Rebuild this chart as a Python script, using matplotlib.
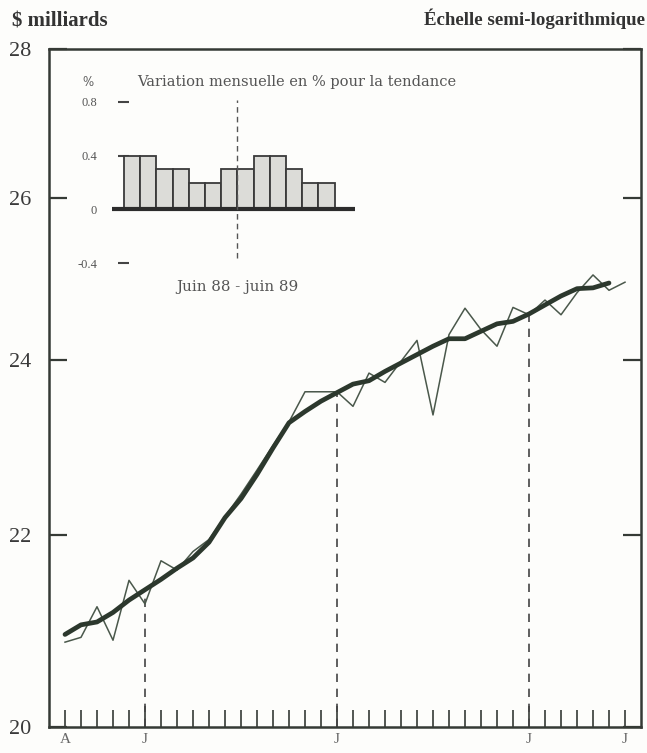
import matplotlib
matplotlib.use("Agg")
import matplotlib.pyplot as plt
from matplotlib.ticker import FixedLocator, NullLocator

plt.rcParams['font.family'] = ['Liberation Serif', 'DejaVu Serif']

# months from Aug 1986 (index 0) to Jul 1989 (index 35)
month_labels = ['A', '', '', '', '', 'J', '', '', '', '', '', '', '', '', '', '', '', 'J',
                '', '', '', '', '', '', '', '', '', '', '', 'J', '', '', '', '', '', 'J']
months = list(range(len(month_labels)))

# monthly values, $ billions
actual = [20.86, 20.91, 21.23, 20.88, 21.51, 21.26, 21.72, 21.62, 21.82, 21.95,
          22.20, 22.45, 22.72, 23.00, 23.27, 23.62, 23.62, 23.62, 23.45, 23.84,
          23.73, 23.98, 24.23, 23.35, 24.30, 24.62, 24.36, 24.16, 24.63, 24.54,
          24.72, 24.54, 24.81, 25.03, 24.84, 24.94]
# trend (ends one month earlier)
trend = [20.94, 21.04, 21.07, 21.17, 21.30, 21.41, 21.52, 21.64, 21.75, 21.92,
         22.19, 22.40, 22.67, 22.97, 23.26, 23.39, 23.51, 23.61, 23.71, 23.75,
         23.86, 23.96, 24.06, 24.16, 24.25, 24.25, 24.34, 24.43, 24.46, 24.55,
         24.66, 24.77, 24.86, 24.87, 24.93]
january_idx = [5, 17, 29]

y_ticks = [20, 22, 24, 26, 28]

# inset: monthly % change of trend, June 88 - June 89
pct_change = [0.4, 0.4, 0.3, 0.3, 0.2, 0.2, 0.3, 0.3, 0.4, 0.4, 0.3, 0.2, 0.2]
pct_ticks = [-0.4, 0, 0.4, 0.8]
pct_tick_labels = ['-0.4', '0', '0.4', '0.8']

W, H = 647, 753
fig = plt.figure(figsize=(W / 100, H / 100), dpi=100)
fig.patch.set_facecolor('#fdfdfb')

def px_axes(x0, y0, x1, y1):
    # pixel box (top-left origin) -> figure fraction
    return [x0 / W, 1 - y1 / H, (x1 - x0) / W, (y1 - y0) / H]

ink = '#353a35'
ax = fig.add_axes(px_axes(49, 49, 641, 727))
ax.set_facecolor('none')
ax.set_yscale('log')
ax.set_ylim(20, 28)
ax.set_xlim(-1, 36)

ax.plot(months, actual, color='#4a584b', lw=1.1, zorder=3)
ax.plot(months[:len(trend)], trend, color='#2c382d', lw=3.4,
        solid_capstyle='round', zorder=4)
ax.vlines(january_idx, 20, [trend[i] for i in january_idx], colors='#444',
          linestyles=(0, (5, 4)), lw=1.2, zorder=2)

ax.yaxis.set_major_locator(FixedLocator(y_ticks))
ax.yaxis.set_minor_locator(NullLocator())
ax.set_yticklabels([str(v) for v in y_ticks])
ax.set_xticks(months)
ax.set_xticklabels(month_labels)
ax.tick_params(axis='y', which='both', direction='in', length=13, width=1.6,
               color=ink, left=True, right=True, labelsize=16, pad=13,
               labelcolor='#3a3a3a')
ax.tick_params(axis='x', direction='in', length=12, width=1.2, color=ink,
               labelsize=11, pad=4, labelcolor='#666')
xt = ax.xaxis.get_major_ticks()
for i in january_idx:
    xt[i].tick1line.set_markersize(15)
for sp in ax.spines.values():
    sp.set_color(ink)
    sp.set_linewidth(1.8)

fig.text(12 / W, 1 - 21 / H, '$ milliards', fontsize=15, fontweight='bold',
         color='#333', va='center', ha='left')
fig.text(645 / W, 1 - 19 / H, 'Échelle semi-logarithmique', fontsize=13.6,
         fontweight='bold', color='#333', va='center', ha='right')

# inset bar chart
axi = fig.add_axes(px_axes(118, 95.2, 360, 270))
axi.set_facecolor('none')
axi.set_ylim(-0.45, 0.85)
axi.set_xlim(-0.87, 14.07)
bar_x = list(range(len(pct_change)))
axi.bar(bar_x, pct_change, width=1.0, color='#dcdcd8', edgecolor='#3a3a3a',
        lw=1.3, zorder=2)
axi.hlines(0, -1.24, 13.76, colors='#2c2c2c', lw=3, clip_on=False, zorder=3)
axi.axvline(6.5, ymin=0.07, ymax=0.97, color='#555', lw=1.0,
            ls=(0, (4, 3)), zorder=4)
for sp in axi.spines.values():
    sp.set_visible(False)
axi.set_xticks([])
axi.set_yticks(pct_ticks)
axi.set_yticklabels(pct_tick_labels)
axi.tick_params(axis='y', direction='in', length=8, width=1.5, color='#444',
                labelsize=9, pad=15, labelcolor='#555')

small = ['DejaVu Serif']
fig.text(88 / W, 1 - 82 / H, '%', fontsize=8.5, color='#555', ha='center',
         va='center', family=small)
fig.text(137 / W, 1 - 82 / H, 'Variation mensuelle en % pour la tendance',
         fontsize=10.5, color='#555', ha='left', va='center', family=small)
fig.text(237 / W, 1 - 287 / H, 'Juin 88 - juin 89', fontsize=10.9,
         color='#555', ha='center', va='center', family=small)

fig.savefig('out.png', dpi=100)
